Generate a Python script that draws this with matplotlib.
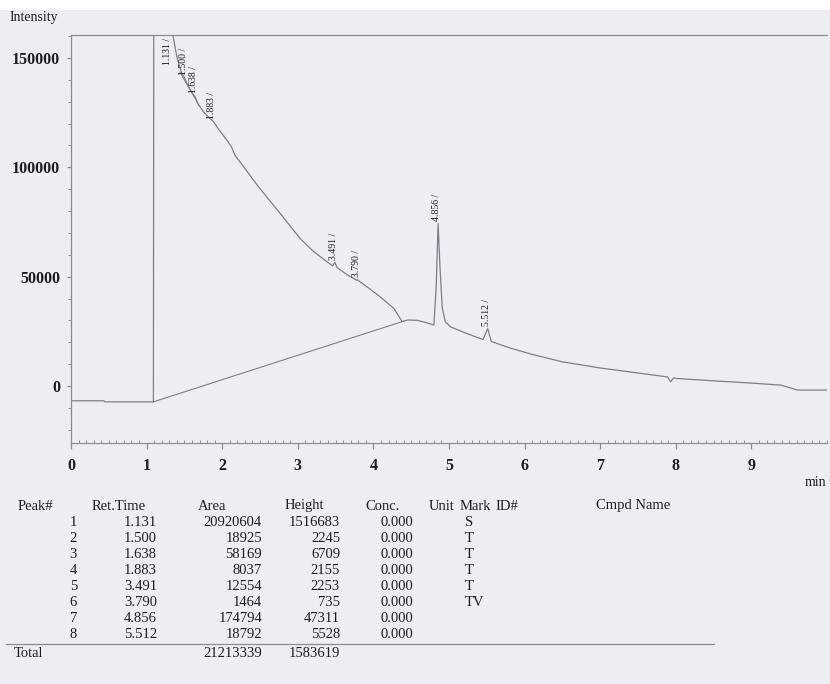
import numpy as np
import matplotlib
matplotlib.use("Agg")
import matplotlib.pyplot as plt
from matplotlib.ticker import MultipleLocator, FixedLocator
from matplotlib.patches import Rectangle

# ---------------- data ----------------
time_min = [0.00, 0.43, 0.45, 1.09, 1.131, 1.25, 1.32, 1.35, 1.40, 1.46, 1.50, 1.54,
            1.60, 1.638, 1.68, 1.75, 1.83, 1.883, 1.95, 2.05, 2.12, 2.17, 2.30, 2.45,
            2.59, 2.77, 3.03, 3.21, 3.40, 3.46, 3.491, 3.52, 3.65, 3.78, 3.79, 3.81,
            3.95, 4.09, 4.27, 4.38, 4.45, 4.58, 4.70, 4.80, 4.83, 4.856, 4.88, 4.91,
            4.95, 5.02, 5.20, 5.45, 5.512, 5.56, 5.80, 6.10, 6.50, 7.00, 7.50, 7.89,
            7.93, 7.97, 8.02, 8.50, 9.00, 9.39, 9.61, 10.00]
intensity = [-6700, -6700, -7200, -7200, 1516683, 300000, 170000, 160000, 150500, 143500, 141000, 138000,
             134000, 132500, 129000, 125500, 122500, 121000, 117500, 113000, 109500, 105500, 99500, 92500,
             86400, 78800, 67500, 61500, 56500, 55000, 56500, 54200, 51000, 48400, 48700, 48000,
             44500, 40800, 35500, 29500, 30200, 30100, 29000, 27900, 45000, 74300, 55000, 36000,
             29500, 27100, 24500, 21300, 26300, 20400, 17500, 14500, 11100, 8300, 6000, 4200,
             2000, 3700, 3500, 2400, 1400, 450, -1800, -1800]

baseline_time = [1.09, 4.40]
baseline_int = [-7200, 29700]
skim_time = [1.44, 1.70]
skim_int = [143500, 128000]

peak_no = [1, 2, 3, 4, 5, 6, 7, 8]
ret_time = [1.131, 1.500, 1.638, 1.883, 3.491, 3.790, 4.856, 5.512]
area = [20920604, 18925, 58169, 8037, 12554, 1464, 174794, 18792]
height = [1516683, 2245, 6709, 2155, 2253, 735, 47311, 5528]
conc = [0.000] * 8
mark = ["S", "T", "T", "T", "T", "TV", "", ""]
total_area = 21213339
total_height = 1583619

headers = ["Peak#", "Ret.Time", "Area", "Height", "Conc.", "Unit", "Mark", "ID#", "Cmpd Name"]

# ---------------- style ----------------
W, H = 830, 684
BG = "#eceef3"
INK = "#1c1d22"
LINE = "#7b7f88"
SERIF = ["Liberation Serif", "DejaVu Serif"]
plt.rcParams["font.family"] = SERIF

fig = plt.figure(figsize=(W / 100, H / 100), dpi=100, facecolor=BG)
# white paper band at the top of the photo
fig.patches.append(Rectangle((0, 1 - 10 / H), 1, 10 / H, transform=fig.transFigure,
                             facecolor="white", edgecolor="none", zorder=0))

def fx(px):
    return px / W

def fy(py):
    return 1 - py / H

ax = fig.add_axes([fx(71), fy(443), fx(827) - fx(71), fy(35) - fy(443)])
ax.set_facecolor(BG)
ax.set_xlim(0, 10.0)
ax.set_ylim(-26000, 160500)

ax.plot(time_min, intensity, color=LINE, lw=0.9, solid_joinstyle="round")
ax.plot(baseline_time, baseline_int, color=LINE, lw=0.8)
ax.plot(skim_time, skim_int, color=LINE, lw=0.7)

for s in ["left", "top", "bottom"]:
    ax.spines[s].set_color("#8a8d95")
    ax.spines[s].set_linewidth(0.9)
ax.spines["right"].set_visible(False)

ax.xaxis.set_major_locator(FixedLocator(list(range(0, 10))))
ax.xaxis.set_minor_locator(MultipleLocator(0.1))
ax.yaxis.set_major_locator(FixedLocator([0, 50000, 100000, 150000]))
ax.yaxis.set_minor_locator(MultipleLocator(10000))
ax.tick_params(axis="x", which="major", direction="out", length=4, width=0.9,
               color="#8a8d95", labelsize=11.5, labelcolor=INK, pad=7)
ax.tick_params(axis="x", which="minor", direction="in", length=2.5, width=0.7, color="#8a8d95")
ax.tick_params(axis="y", which="major", direction="out", length=3, width=0.9,
               color="#8a8d95", labelsize=11.5, labelcolor=INK, pad=5)
ax.tick_params(axis="y", which="minor", direction="out", length=2, width=0.7, color="#8a8d95")
for lab in ax.get_xticklabels() + ax.get_yticklabels():
    lab.set_fontweight("bold")

# peak labels
t_arr = np.array(time_min)
i_arr = np.array(intensity)
ytop = ax.get_ylim()[1]
for rt in ret_time:
    val = float(np.interp(rt, t_arr, i_arr))
    if val > ytop:
        after = np.where((t_arr > rt) & (i_arr <= ytop))[0][0]
        ax.annotate(f"{rt:.3f} /", xy=(t_arr[after] - 0.07, ytop), xytext=(0, -2),
                    textcoords="offset points", rotation=90, ha="center", va="top",
                    fontsize=7, color=INK)
    else:
        ax.annotate(f"{rt:.3f} /", xy=(rt, val), xytext=(-1, 2),
                    textcoords="offset points", rotation=90, ha="center", va="bottom",
                    fontsize=7, color=INK)

fig.text(fx(10), fy(18), "Intensity", fontsize=10, color=INK, va="center", ha="left")
fig.text(fx(826), fy(483), "min", fontsize=10, color=INK, va="center", ha="right")

# ---------------- table ----------------
FS = 10.5
head_y = 506
row0 = 522.5
dy = 16.0
hdr_x = [18, 92, 198, 285, 365, 429, 460, 495, 596]
for h, x in zip(headers, hdr_x):
    fig.text(fx(x), fy(head_y), h, fontsize=FS, color=INK, ha="left", va="center")

for k in range(len(peak_no)):
    y = fy(row0 + k * dy)
    fig.text(fx(77), y, f"{peak_no[k]}", fontsize=FS, color=INK, ha="right", va="center")
    fig.text(fx(157), y, f"{ret_time[k]:.3f}", fontsize=FS, color=INK, ha="right", va="center")
    fig.text(fx(262), y, f"{area[k]}", fontsize=FS, color=INK, ha="right", va="center")
    fig.text(fx(340), y, f"{height[k]}", fontsize=FS, color=INK, ha="right", va="center")
    fig.text(fx(413), y, f"{conc[k]:.3f}", fontsize=FS, color=INK, ha="right", va="center")
    if mark[k]:
        fig.text(fx(465), y, mark[k], fontsize=FS, color=INK, ha="left", va="center")

line_y = fy(row0 + 7 * dy + 9)
fig.add_artist(plt.Line2D([fx(6), fx(714)], [line_y, line_y], color="#8a8d95", lw=0.9))
tot_y = fy(row0 + 8 * dy + 3)
fig.text(fx(14), tot_y, "Total", fontsize=FS, color=INK, ha="left", va="center")
fig.text(fx(262), tot_y, f"{total_area}", fontsize=FS, color=INK, ha="right", va="center")
fig.text(fx(340), tot_y, f"{total_height}", fontsize=FS, color=INK, ha="right", va="center")

fig.savefig("out.png", dpi=100, facecolor=fig.get_facecolor())
